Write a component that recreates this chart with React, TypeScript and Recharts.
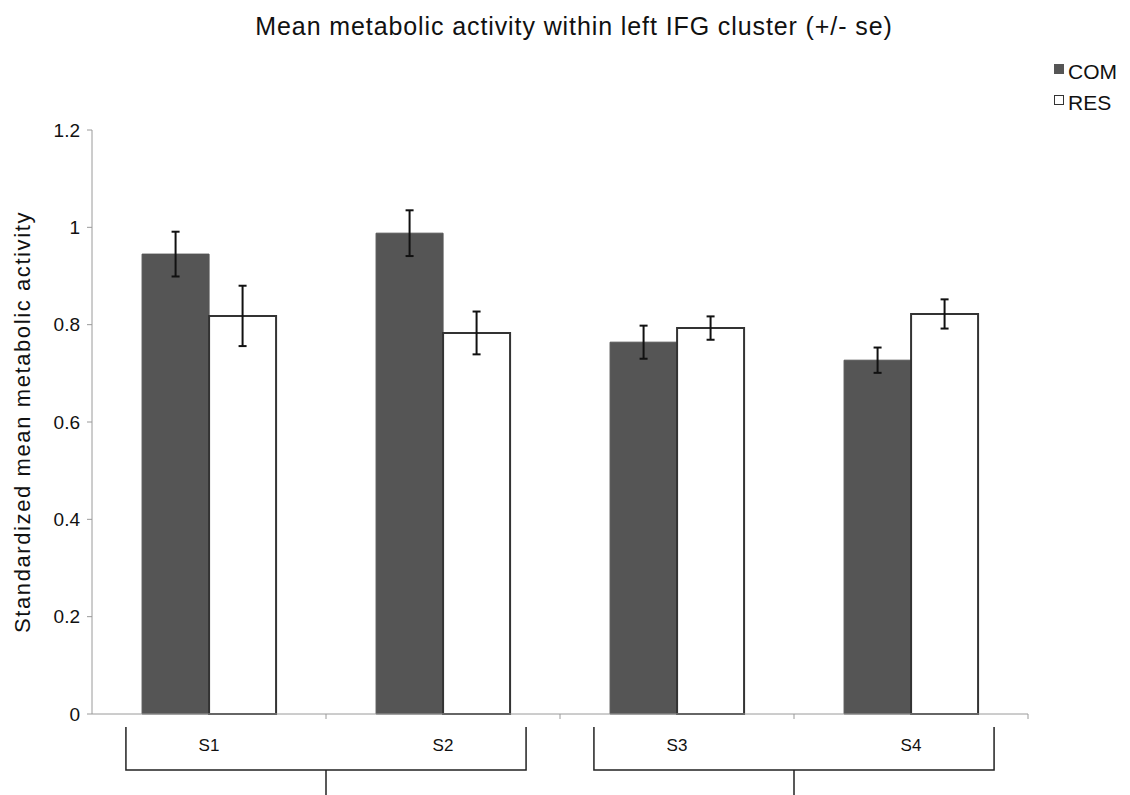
import React from "react";
import { BarChart, Bar, XAxis, YAxis, ErrorBar, Legend } from "recharts";

const categories = ["S1", "S2", "S3", "S4"];
const groups = ["G1", "G1", "G2", "G2"];
const comMeans = [0.945, 0.988, 0.764, 0.727];
const comSe = [0.046, 0.047, 0.034, 0.026];
const resMeans = [0.818, 0.783, 0.793, 0.822];
const resSe = [0.062, 0.044, 0.024, 0.03];
const yTicks = [0, 0.2, 0.4, 0.6, 0.8, 1, 1.2];

const data = categories.map((name, i) => ({
  name,
  group: groups[i],
  COM: comMeans[i],
  comSe: comSe[i],
  RES: resMeans[i],
  resSe: resSe[i],
}));

const W = 1130;
const H = 795;
const MARGIN = { top: 130, right: 102, left: 0, bottom: 0 };
const Y_W = 92;
const BAND = (W - MARGIN.left - MARGIN.right - Y_W) / categories.length;
const FONT = "'Liberation Sans', Arial, Helvetica, sans-serif";
const AXIS = "#9a9a9a";
const DARK = "#555555";

function CategoryTick(props: any) {
  const { x, y, payload } = props;
  return (
    <g>
      <line x1={x + BAND / 2} y1={y} x2={x + BAND / 2} y2={y + 5} stroke={AXIS} strokeWidth={1} />
      <text x={x} y={y + 37} textAnchor="middle" fontSize={17} fontFamily={FONT} fill="#111">
        {payload.value}
      </text>
    </g>
  );
}

function GroupTick(props: any) {
  const { x, y } = props;
  const half = BAND * 0.855;
  return (
    <g stroke="#222" strokeWidth={1.5} fill="none">
      <polyline points={`${x - half},${y - 27} ${x - half},${y + 16} ${x + half},${y + 16} ${x + half},${y - 27}`} />
      <line x1={x} y1={y + 16} x2={x} y2={y + 41} />
    </g>
  );
}

function LegendBox() {
  const items = [
    { label: "COM", fill: DARK, stroke: DARK },
    { label: "RES", fill: "#fff", stroke: "#333" },
  ];
  return (
    <div style={{ fontFamily: FONT, fontSize: 21, color: "#111" }}>
      {items.map((it) => (
        <div key={it.label} style={{ display: "flex", alignItems: "center", height: 31 }}>
          <span
            style={{
              display: "inline-block",
              width: 8,
              height: 8,
              background: it.fill,
              border: `1.5px solid ${it.stroke}`,
              marginRight: 4,
              marginTop: -6,
            }}
          />
          <span>{it.label}</span>
        </div>
      ))}
    </div>
  );
}

export default function App() {
  return (
    <div style={{ position: "absolute", left: 0, top: 0, width: W, height: H, background: "#fff" }}>
      <div
        style={{
          position: "absolute",
          left: 0,
          top: 12,
          width: 1148,
          textAlign: "center",
          fontFamily: FONT,
          fontSize: 25,
          letterSpacing: 0.9,
          color: "#111",
        }}
      >
        Mean metabolic activity within left IFG cluster (+/- se)
      </div>
      <BarChart
        width={W}
        height={H}
        data={data}
        margin={MARGIN}
        barCategoryGap="21.4%"
        barGap={0}
      >
        <XAxis
          xAxisId="a_main"
          dataKey="name"
          stroke={AXIS}
          tickLine={false}
          tickSize={0}
          tickMargin={0}
          height={40}
          tick={<CategoryTick />}
          interval={0}
        />
        <XAxis
          xAxisId="b_grp"
          dataKey="group"
          allowDuplicatedCategory={false}
          axisLine={false}
          tickLine={false}
          tickSize={0}
          tickMargin={0}
          height={41}
          tick={<GroupTick />}
          interval={0}
        />
        <YAxis
          width={Y_W}
          domain={[0, 1.2]}
          ticks={yTicks}
          stroke={AXIS}
          tickSize={5}
          tickMargin={7}
          tick={{ fontSize: 19, fill: "#111", fontFamily: FONT }}
          label={{
            value: "Standardized mean metabolic activity",
            angle: -90,
            position: "insideLeft",
            offset: 22,
            style: { textAnchor: "middle", fontSize: 22, letterSpacing: 1.6, fill: "#111", fontFamily: FONT },
          }}
        />
        <Legend
          layout="vertical"
          align="center"
          verticalAlign="middle"
          wrapperStyle={{ top: 56, left: 1054, width: 80 }}
          content={<LegendBox />}
        />
        <Bar xAxisId="a_main" dataKey="COM" fill={DARK} stroke={DARK} isAnimationActive={false}>
          <ErrorBar dataKey="comSe" width={4} strokeWidth={2} stroke="#111" direction="y" isAnimationActive={false} />
        </Bar>
        <Bar xAxisId="a_main" dataKey="RES" fill="#fff" stroke="#333" strokeWidth={2} isAnimationActive={false}>
          <ErrorBar dataKey="resSe" width={4} strokeWidth={2} stroke="#111" direction="y" isAnimationActive={false} />
        </Bar>
      </BarChart>
    </div>
  );
}
